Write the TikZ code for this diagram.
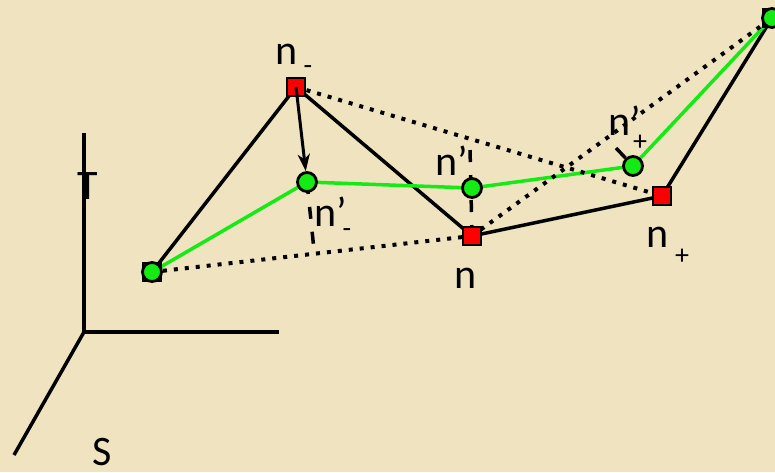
\documentclass[tikz,border=0pt]{standalone}
\usepackage{fontspec}
\setmainfont{Carlito}
\usetikzlibrary{arrows.meta,backgrounds}
\definecolor{parch}{RGB}{240,227,192}
\definecolor{lgreen}{RGB}{20,235,20}
\definecolor{sqred}{RGB}{250,0,0}
\tikzset{
  redsq/.style={rectangle,fill=sqred,draw=black,line width=1.5pt,minimum size=18pt,inner sep=0pt},
  grc/.style={circle,fill=lgreen,draw=black,line width=2.8pt,minimum size=19pt,inner sep=0pt},
  blk/.style={draw=black,line width=3.5pt},
  grn/.style={draw=lgreen,line width=3.5pt},
  dots/.style={draw=black,line width=4pt,dash pattern=on 4pt off 7pt},
  proj/.style={draw=black,line width=3.5pt,dash pattern=on 12pt off 13pt},
  lbl/.style={inner sep=0pt,font=\fontsize{42}{44}\selectfont,anchor=base west},
  sub/.style={inner sep=0pt,font=\fontsize{28}{30}\selectfont},
  ax/.style={draw=black,line width=3.5pt}
}
\begin{document}
\begin{tikzpicture}[x=1pt,y=-1pt]
\useasboundingbox (0,0) rectangle (775,472);
% axes
\coordinate (O) at (84,332);
\coordinate (Ty) at (84,133);
\coordinate (Sx) at (279,332);
\coordinate (Sz) at (14,455);
\draw[ax] (O) -- (Ty);
\draw[ax] (O) -- (Sx);
\draw[ax] (O) -- (Sz);
\node[inner sep=0pt,font=\fontsize{42}{44}\selectfont,anchor=base] (tT) at (88,199) {T};
\node[inner sep=0pt,font=\fontsize{42}{44}\selectfont,anchor=base] (tS) at (102,465) {S};
% nodes
\node[redsq] (Asq) at (152,272) {};
\node[grc] (A) at (152,272) {};
\node[redsq] (nm) at (296,87) {};
\node[grc] (nmp) at (307,182) {};
\node[redsq] (n) at (472,236) {};
\node[grc] (npp) at (472,188) {};
\node[grc] (npl) at (633,166) {};
\node[redsq] (np) at (662,196) {};
\node[redsq] (Bsq) at (772,18) {};
\node[grc] (B) at (772,18) {};
\coordinate (pm) at (314,250);
\coordinate (pn) at (470,148);
\coordinate (pp) at (616,148);
\begin{scope}[on background layer]
\fill[parch] (0,0) rectangle (775,472);
\draw[blk] (A.center) -- (nm.center) -- (n.center) -- (np.center) -- (B.center);
\draw[grn] (A.center) -- (nmp.center) -- (npp.center) -- (npl.center) -- (B.center);
\draw[dots] (A.center) -- (n.center);
\draw[dots] (nm.center) -- (np.center);
\draw[dots] (n.center) -- (B.center);
\draw[proj] (nmp.center) -- (pm);
\draw[proj] ([yshift=-1pt]n.center) -- (pn);
\draw[blk,shorten <=11pt] (npl.center) -- (pp);
\end{scope}
\draw[blk,-{Stealth[length=17pt,width=12pt,inset=5pt]},line width=3pt] (nm.center) -- (nmp);
% labels
\node[lbl] (lnm) at (275,64) {n};
\node[sub] (snm) at (308,70) {-};
\node[lbl] (lnmp) at (314,226) {n’};
\node[sub] (snmp) at (347,233) {-};
\node[lbl] (lnpp) at (435,175) {n’};
\node[lbl] (ln) at (454,288) {n};
\node[lbl] (lnpl) at (608,135) {n’};
\node[sub] (snpl) at (640,143) {+};
\node[lbl] (lnp) at (646,247) {n};
\node[sub] (snp) at (682,257) {+};
\end{tikzpicture}
\end{document}
